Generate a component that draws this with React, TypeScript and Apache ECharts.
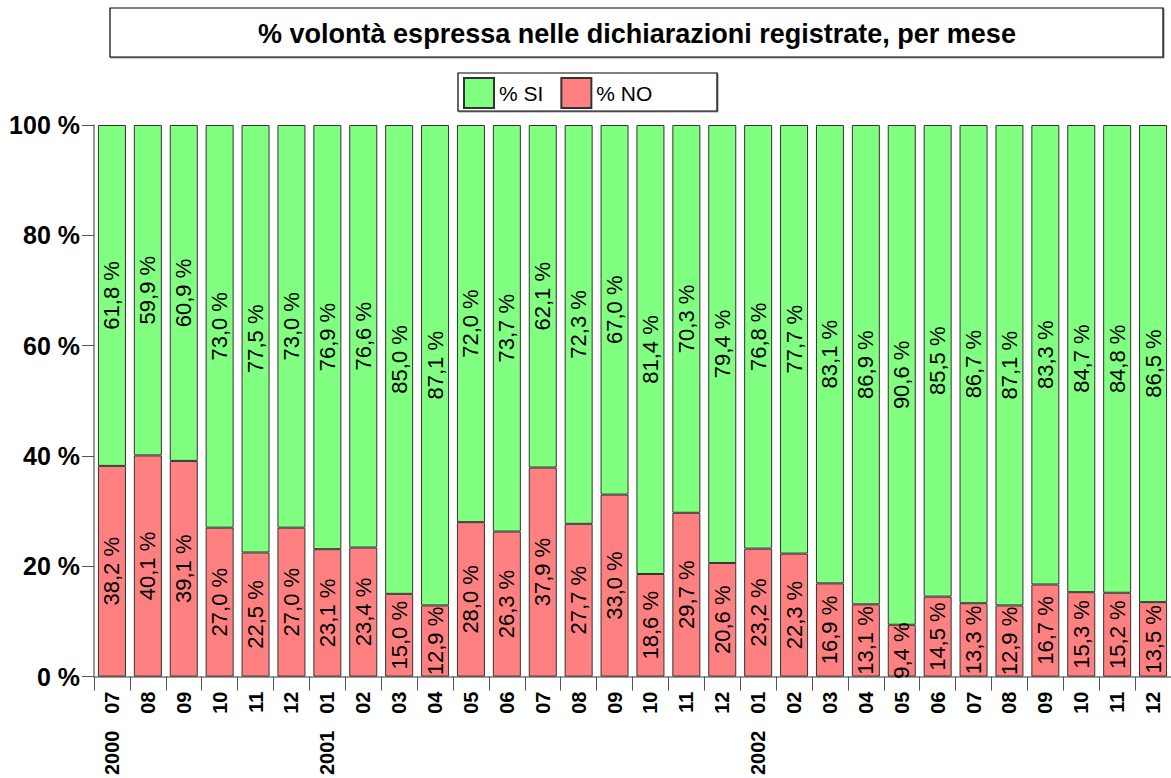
import React, { useEffect, useRef } from "react";
import * as echarts from "echarts";

const months = ["07","08","09","10","11","12","01","02","03","04","05","06","07","08","09","10","11","12","01","02","03","04","05","06","07","08","09","10","11","12"];
const years = ["2000","","","","","","2001","","","","","","","","","","","","2002","","","","","","","","","","",""];
const noValues = [38.2,40.1,39.1,27.0,22.5,27.0,23.1,23.4,15.0,12.9,28.0,26.3,37.9,27.7,33.0,18.6,29.7,20.6,23.2,22.3,16.9,13.1,9.4,14.5,13.3,12.9,16.7,15.3,15.2,13.5];
const siValues = [61.8,59.9,60.9,73.0,77.5,73.0,76.9,76.6,85.0,87.1,72.0,73.7,62.1,72.3,67.0,81.4,70.3,79.4,76.8,77.7,83.1,86.9,90.6,85.5,86.7,87.1,83.3,84.7,84.8,86.5];
const yTicks = [0, 20, 40, 60, 80, 100];

const FONT = "Arial, 'Liberation Sans', sans-serif";

export default function App() {
  const ref = useRef<HTMLDivElement>(null);
  useEffect(() => {
    document.body.style.margin = "0";
    const chart = echarts.init(ref.current!, null, { renderer: "svg" });
    const categories = months.map((m, i) => (years[i] ? years[i] + "   " + m : m));
    const fmt = (p: any) => p.value.toFixed(1).replace(".", ",") + " %";
    const labelStyle = {
      show: true,
      position: "inside",
      rotate: 90,
      formatter: fmt,
      color: "#000",
      fontSize: 22,
      fontFamily: FONT,
    };
    chart.setOption({
      animation: false,
      textStyle: { fontFamily: FONT },
      graphic: [
        {
          type: "rect",
          shape: { x: 110, y: 8, width: 1053, height: 49 },
          style: { fill: "#fff", stroke: "#000", lineWidth: 1.2, shadowColor: "rgba(0,0,0,0.4)", shadowOffsetX: 1, shadowOffsetY: 1, shadowBlur: 1 },
        },
        {
          type: "text",
          x: 637,
          y: 34,
          style: {
            text: "% volontà espressa nelle dichiarazioni registrate, per mese",
            fontSize: 27,
            fontWeight: "bold",
            fontFamily: FONT,
            fill: "#000",
            align: "center",
            verticalAlign: "middle",
          },
        },
        {
          type: "rect",
          shape: { x: 458, y: 73, width: 259, height: 38 },
          style: { fill: "#fff", stroke: "#000", lineWidth: 1.2, shadowColor: "rgba(0,0,0,0.4)", shadowOffsetX: 1, shadowOffsetY: 1, shadowBlur: 1 },
          z: -1,
        },
      ],
      legend: {
        data: ["% SI", "% NO"],
        left: 463,
        top: 77,
        itemWidth: 30,
        itemHeight: 30,
        itemGap: 17,
        icon: "rect",
        padding: 0,
        textStyle: { fontSize: 21, color: "#000", fontFamily: FONT },
        selectedMode: false,
      },
      grid: { left: 94, top: 125, width: 1080, height: 557 },
      xAxis: {
        type: "category",
        data: categories,
        axisLine: { lineStyle: { color: "#777", width: 1.5 } },
        axisTick: { show: true, length: 14, lineStyle: { color: "#555" } },
        axisLabel: {
          rotate: 90,
          interval: 0,
          margin: 15,
          fontSize: 20,
          fontWeight: "bold",
          color: "#000",
          fontFamily: FONT,
        },
      },
      yAxis: {
        type: "value",
        min: yTicks[0],
        max: yTicks[yTicks.length - 1],
        interval: 20,
        splitLine: { show: false },
        axisLine: { show: true, lineStyle: { color: "#777", width: 1.5 } },
        axisTick: { show: true, length: 12, lineStyle: { color: "#555" } },
        axisLabel: {
          formatter: (v: number) => v + " %",
          fontSize: 25,
          fontWeight: "bold",
          color: "#000",
          margin: 14,
          fontFamily: FONT,
        },
      },
      series: [
        {
          name: "% NO",
          type: "bar",
          stack: "tot",
          data: noValues,
          barWidth: 28,
          itemStyle: { color: "#FF8080", borderColor: "#333", borderWidth: 1 },
          label: labelStyle,
        },
        {
          name: "% SI",
          type: "bar",
          stack: "tot",
          data: siValues,
          barWidth: 28,
          itemStyle: { color: "#80FF80", borderColor: "#333", borderWidth: 1 },
          label: labelStyle,
        },
      ],
    });
    return () => chart.dispose();
  }, []);
  return <div ref={ref} style={{ width: 1171, height: 778 }} />;
}
